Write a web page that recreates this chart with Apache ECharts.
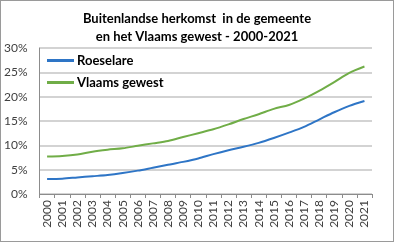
<!DOCTYPE html>
<html><head><meta charset="utf-8">
<script src="https://cdn.jsdelivr.net/npm/echarts@6/dist/echarts.min.js"></script>
<style>html,body{margin:0;padding:0;background:#fff}#c{width:394px;height:242px;box-sizing:border-box;border:1px solid #9a9a9a}</style>
</head><body><div id="c"></div>
<script>
const years = ['2000','2001','2002','2003','2004','2005','2006','2007','2008','2009','2010','2011','2012','2013','2014','2015','2016','2017','2018','2019','2020','2021'];
const roeselare = [3.1,3.15,3.4,3.65,3.9,4.3,4.8,5.4,6.0,6.6,7.3,8.2,9.0,9.7,10.5,11.5,12.6,13.8,15.3,16.8,18.1,19.1];
const vlaams = [7.7,7.8,8.1,8.7,9.1,9.4,9.9,10.4,10.9,11.7,12.5,13.3,14.3,15.4,16.4,17.5,18.3,19.6,21.2,23.0,24.9,26.2];
const yTicks = [0,5,10,15,20,25,30];
const titleLines = ['Buitenlandse herkomst  in de gemeente','en het Vlaams gewest - 2000-2021'];
const font = 'Lato, "Open Sans", sans-serif';
const chart = echarts.init(document.getElementById('c'));
chart.setOption({
  animation:false,
  title:{text:titleLines.join('\n'),left:'center',top:4,textStyle:{fontFamily:font,fontSize:13,fontWeight:'bold',color:'#000',lineHeight:18}},
  legend:{orient:'vertical',left:41,top:48,itemWidth:27,itemHeight:3,itemGap:9,icon:'rect',
    textStyle:{fontFamily:font,fontSize:13,fontWeight:'bold',color:'#000',padding:[0,0,0,-2]},
    data:['Roeselare','Vlaams gewest']},
  grid:{left:38,right:21,top:47,bottom:47,containLabel:false},
  xAxis:{type:'category',data:years,boundaryGap:true,
    axisLine:{lineStyle:{color:'#8c8c8c',width:1}},
    axisTick:{show:true,length:4,interval:0,lineStyle:{color:'#8c8c8c'}},
    axisLabel:{rotate:90,interval:0,fontFamily:font,fontSize:12,color:'#404040',margin:6}},
  yAxis:{type:'value',min:yTicks[0],max:yTicks[yTicks.length-1],interval:5,
    axisLine:{show:true,lineStyle:{color:'#8c8c8c',width:1}},
    axisTick:{show:false},
    axisLabel:{formatter:v=>v+'%',fontFamily:font,fontSize:12,color:'#404040',margin:12},
    splitLine:{lineStyle:{color:'#c4c4c4',width:1.5}}},
  series:[
    {name:'Roeselare',type:'line',data:roeselare,symbol:'none',smooth:0.3,lineStyle:{color:'#2e75c6',width:2},itemStyle:{color:'#2e75c6'}},
    {name:'Vlaams gewest',type:'line',data:vlaams,symbol:'none',smooth:0.3,lineStyle:{color:'#70ad47',width:2},itemStyle:{color:'#70ad47'}}
  ]
});
</script></body></html>
